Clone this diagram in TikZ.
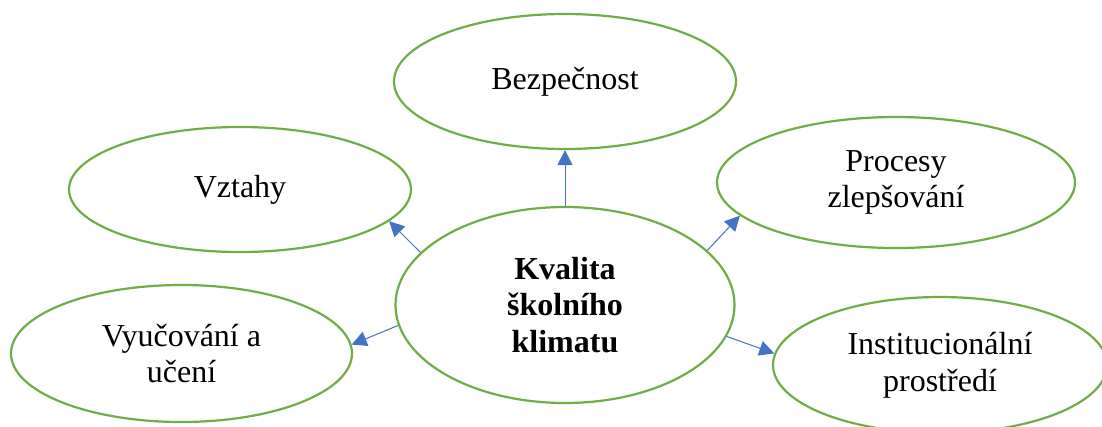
\documentclass[tikz,border=0pt]{standalone}
\usepackage{fontspec}
\setmainfont{Liberation Serif}
\usetikzlibrary{shapes.geometric,arrows.meta}
\definecolor{ringgreen}{HTML}{70AD47}
\definecolor{linkblue}{HTML}{4472C4}
\begin{document}
\begin{tikzpicture}[x=1pt,y=-1pt,
  bubble/.style={ellipse,draw=ringgreen,line width=2.2pt,inner sep=0pt,
    align=center,font=\fontsize{32}{36.8}\selectfont},
  link/.style={draw=linkblue,line width=1pt,
    -{Triangle[length=15pt,width=15pt]}}]
\useasboundingbox (0,0) rectangle (1102,426);
\clip (0,0) rectangle (1102,426);
\fill[white] (0,0) rectangle (1102,426);

\node[bubble,minimum width=339pt,minimum height=196pt,
  font=\fontsize{32}{36.8}\selectfont\bfseries] (kv) at (565,305)
  {Kvalita\\školního\\klimatu};
\node[bubble,minimum width=342pt,minimum height=135pt] (bez) at (565,81.5) {Bezpečnost};
\node[bubble,minimum width=342pt,minimum height=125pt] (vz) at (240,189.5) {Vztahy};
\node[bubble,minimum width=358pt,minimum height=131pt] (pr) at (896,182.5) {Procesy\\zlepšování};
\node[bubble,minimum width=341pt,minimum height=137pt] (vy) at (181.5,353.5) {Vyučování a\\učení};
\node[bubble,minimum width=334pt,minimum height=136pt] (in) at (940,365) {Institucionální\\prostředí};

\draw[link] (kv.north) -- (bez.south);
\draw[link] (kv.160.6) -- (vz.-12.4);
\draw[link] (kv.21.9) -- (pr.192.9);
\draw[link] (kv.187.3) -- (vy.3.2);
\draw[link] (kv.-11.1) -- (in.176.5);
\end{tikzpicture}
\end{document}
